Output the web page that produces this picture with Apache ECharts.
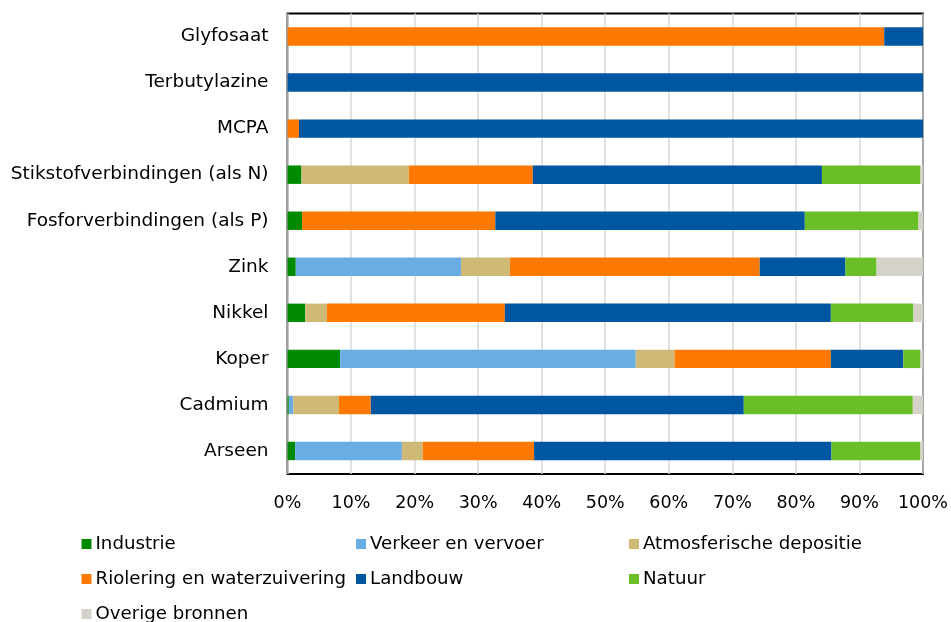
<!DOCTYPE html>
<html>
<head>
<meta charset="utf-8">
<script src="https://cdn.jsdelivr.net/npm/echarts@6/dist/echarts.min.js"></script>
<style>
  html, body { margin: 0; padding: 0; background: #fff; }
  #chart { width: 951px; height: 622px; }
</style>
</head>
<body>
<div id="chart"></div>
<script>
// Stoffen (top to bottom) and share per bron, in %
const categories = ['Glyfosaat', 'Terbutylazine', 'MCPA', 'Stikstofverbindingen (als N)',
  'Fosforverbindingen (als P)', 'Zink', 'Nikkel', 'Koper', 'Cadmium', 'Arseen'];

const industrie = [0, 0, 0, 2.2, 2.3, 1.3, 2.8, 8.3, 0.2, 1.2];
const verkeer   = [0, 0, 0, 0, 0, 26.0, 0, 46.5, 0.7, 16.8];
const atmos     = [0, 0, 0, 16.9, 0, 7.7, 3.4, 6.1, 7.2, 3.3];
const riolering = [93.9, 0, 1.8, 19.5, 30.4, 39.3, 28.0, 24.6, 5.0, 17.5];
const landbouw  = [6.1, 100, 98.2, 45.5, 48.7, 13.5, 51.3, 11.4, 58.7, 46.8];
const natuur    = [0, 0, 0, 15.5, 17.9, 4.9, 13.0, 2.7, 26.6, 14.0];
const overige   = [0, 0, 0, 0.4, 0.7, 7.3, 1.5, 0.4, 1.6, 0.4];

const sources = [
  { name: 'Industrie', data: industrie, color: '#008A00' },
  { name: 'Verkeer en vervoer', data: verkeer, color: '#6AADE4' },
  { name: 'Atmosferische depositie', data: atmos, color: '#CFB977' },
  { name: 'Riolering en waterzuivering', data: riolering, color: '#FF7900' },
  { name: 'Landbouw', data: landbouw, color: '#0056A0' },
  { name: 'Natuur', data: natuur, color: '#6ABE28' },
  { name: 'Overige bronnen', data: overige, color: '#D5D2CA' }
];

const FONT = 'DejaVu Sans';

// Legend laid out as a 3-column grid: one legend box per entry
const colX = [81.5, 356, 629];
const rowY = [535, 570, 605];
const legends = sources.map((s, i) => ({
  data: [s.name],
  left: colX[i % 3],
  top: rowY[Math.floor(i / 3)],
  orient: 'horizontal',
  itemWidth: 10,
  itemHeight: 10,
  icon: 'rect',
  itemGap: 0,
  selectedMode: false,
  textStyle: { fontFamily: FONT, fontSize: 18.2, color: '#000', padding: [0, 0, 0, -1] },
  padding: 0
}));

const chart = echarts.init(document.getElementById('chart'), null, { renderer: 'canvas' });
chart.setOption({
  animation: false,
  backgroundColor: '#fff',
  legend: legends,
  grid: {
    left: 287.5, right: 27.5, top: 13.5, bottom: 148,
    show: true, borderColor: '#000', borderWidth: 1.8, backgroundColor: 'transparent'
  },
  xAxis: {
    type: 'value', min: 0, max: 100, interval: 10,
    axisLine: { show: false }, axisTick: { show: false },
    splitLine: { show: true, lineStyle: { color: '#d9d9d9', width: 1.5 } },
    axisLabel: { formatter: '{value}%', fontFamily: FONT, fontSize: 17.5, color: '#000', margin: 20 }
  },
  yAxis: {
    type: 'category', data: categories, inverse: true,
    axisLine: { show: false }, axisTick: { show: false },
    axisLabel: { fontFamily: FONT, fontSize: 18.5, color: '#000', margin: 19 }
  },
  series: sources.map(s => ({
    name: s.name, type: 'bar', stack: 'total', data: s.data,
    barCategoryGap: '60%',
    itemStyle: { color: s.color },
    emphasis: { disabled: true }
  }))
});
</script>
</body>
</html>
